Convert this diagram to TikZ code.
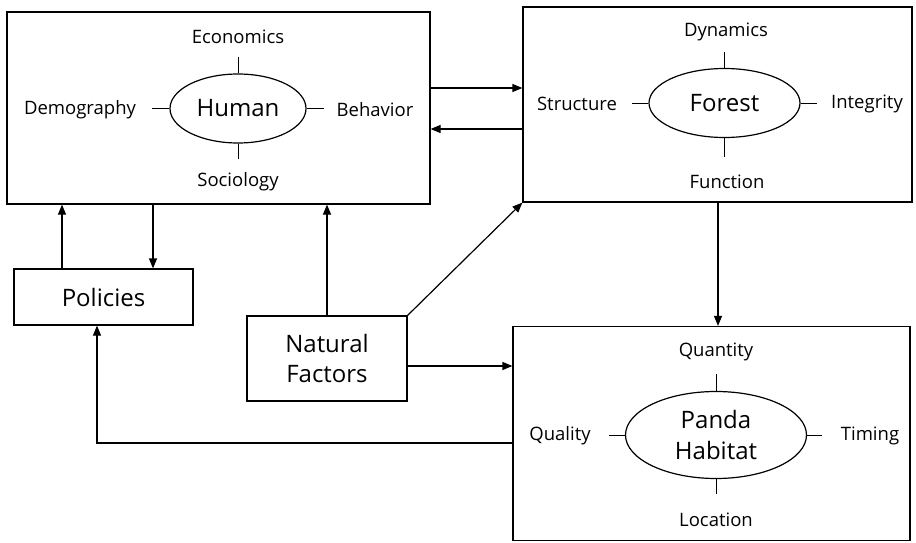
\documentclass[tikz,border=0pt]{standalone}
\usepackage{fontspec}
\setmainfont{Open Sans}
\usetikzlibrary{arrows.meta,shapes.geometric}
\begin{document}
\begin{tikzpicture}[x=1pt,y=-1pt,
  line width=1.2pt,
  box/.style={draw,rectangle,inner sep=0pt,anchor=center},
  oval/.style={draw,ellipse,inner sep=0pt,anchor=center,font=\fontsize{24}{31}\selectfont,align=center},
  lab/.style={inner sep=0pt,anchor=center,font=\fontsize{18.5}{22}\selectfont},
  big/.style={font=\fontsize{24}{30}\selectfont,align=center},
  arr/.style={-{Triangle[length=10pt,width=8pt]}},
  tick/.style={line width=1pt}]
\useasboundingbox (0,0) rectangle (916,543);
% boxes
\node[box,minimum width=423pt,minimum height=192pt] (human) at (218.5,108) {};
\node[box,minimum width=389pt,minimum height=195pt] (forest) at (717.5,104.5) {};
\node[box,minimum width=179pt,minimum height=56pt,big] (pol) at (103.5,297) {Policies};
\node[box,minimum width=160pt,minimum height=85pt,big] (nf) at (327,358.5) {Natural\\Factors};
\node[box,minimum width=397pt,minimum height=214pt] (panda) at (711.5,433.5) {};
% ellipses
\node[oval,minimum width=136pt,minimum height=69pt] (he) at (238,108.5) {Human};
\node[oval,minimum width=151pt,minimum height=69pt] (fe) at (724.5,103) {Forest};
\node[oval,minimum width=181pt,minimum height=87pt] (pe) at (716,435) {Panda\\Habitat};
% labels
\node[lab] (econ) at (238,37) {Economics};
\node[lab] (demo) at (80,110) {Demography};
\node[lab] (beh) at (375,110) {Behavior};
\node[lab] (soc) at (238,182) {Sociology};
\node[lab] (dyn) at (726,32) {Dynamics};
\node[lab] (str) at (577,104) {Structure};
\node[lab] (integ) at (867,104) {Integrity};
\node[lab] (func) at (727,182) {Function};
\node[lab] (quan) at (716,352) {Quantity};
\node[lab] (loc) at (716,520) {Location};
\node[lab] (qual) at (560,436) {Quality};
\node[lab] (tim) at (870,436) {Timing};
% ticks
\draw[tick] (he.north) -- ++(0,-16);
\draw[tick] (he.south) -- ++(0,15);
\draw[tick] (he.west) -- ++(-17,0);
\draw[tick] (he.east) -- ++(17,0);
\draw[tick] (fe.north) -- ++(0,-16);
\draw[tick] (fe.south) -- ++(0,19);
\draw[tick] (fe.west) -- ++(-16,0);
\draw[tick] (fe.east) -- ++(16,0);
\draw[tick] (pe.north) -- ++(0,-17);
\draw[tick] (pe.south) -- ++(0,15);
\draw[tick] (pe.west) -- ++(-16,0);
\draw[tick] (pe.east) -- ++(15,0);
% connectors
\draw[arr] (human.east |- 0,88) -- (forest.west |- 0,88);
\draw[arr] (forest.west |- 0,129) -- (human.east |- 0,129);
\draw[arr] (pol.north -| 62,0) -- (human.south -| 62,0);
\draw[arr] (human.south -| 153,0) -- (pol.north -| 153,0);
\draw[arr] (nf.north) -- (nf.north |- human.south);
\draw[arr] (nf.north east) -- (forest.south west);
\draw[arr] (nf.east |- 0,366) -- (panda.west |- 0,366);
\draw[arr] (forest.south -| 718,0) -- (panda.north -| 718,0);
\draw[arr] (panda.west |- 0,443) -| (pol.south -| 97,0);
\end{tikzpicture}
\end{document}
